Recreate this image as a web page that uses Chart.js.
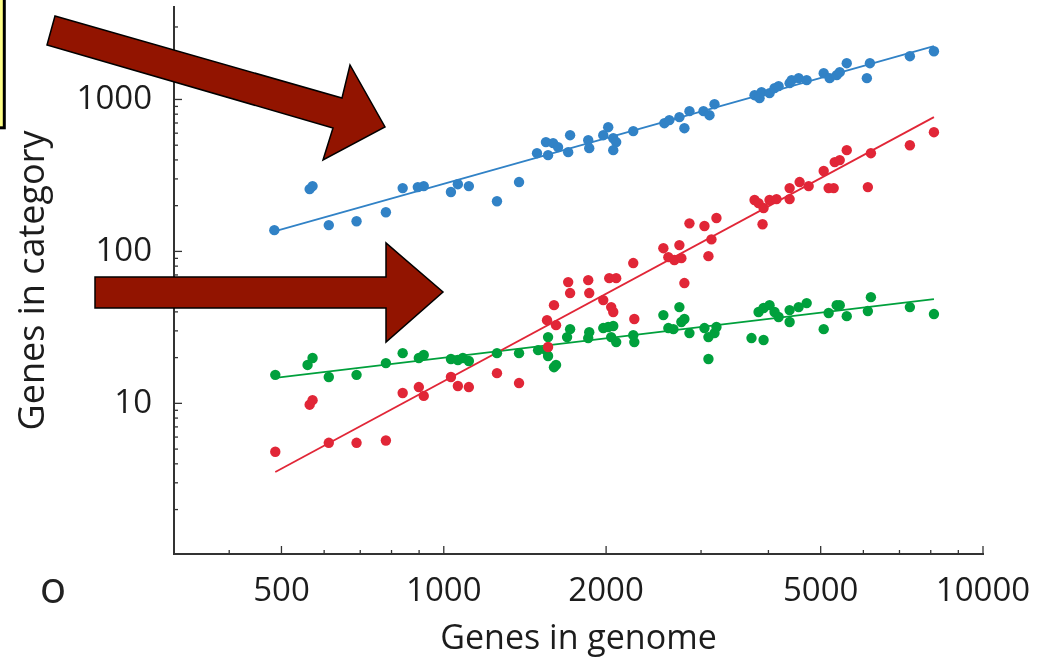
<!DOCTYPE html>
<html>
<head>
<meta charset="utf-8">
<title>Genes in category vs genes in genome</title>
<script src="https://cdn.jsdelivr.net/npm/chart.js@4.4.0/dist/chart.umd.min.js"></script>
<style>
  html, body { margin: 0; padding: 0; background: #fff; }
  #wrap { position: relative; width: 1043px; height: 662px; overflow: hidden; }
  #genesChart, #notes { position: absolute; left: 0; top: 0; }
</style>
</head>
<body>
<div id="wrap">
  <canvas id="genesChart" width="1043" height="662"></canvas>
  <svg id="notes" width="1043" height="662">
    <rect x="-10" y="-10" width="14.3" height="137.8" fill="#ffff88" stroke="#000" stroke-width="3"/>
    <polygon points="55,16 342,98 350,65 385,127 323,160 333,128 47,45" fill="#921400" stroke="#000" stroke-width="1.5"/>
    <polygon points="95,277 386,277 386,243 443,292 386,342 386,308 95,308" fill="#921400" stroke="#000" stroke-width="1.5"/>
    <text x="53" y="603" font-family="Open Sans" font-size="44" text-anchor="middle" fill="#222">o</text>
  </svg>
</div>
<script>
// tick positions
var genomeTicksMajor = [500, 1000, 2000, 5000, 10000];
var genomeTicksMinor = [400, 600, 700, 800, 900, 3000, 4000, 6000, 7000, 8000, 9000];
var categoryTicksMajor = [10, 100, 1000];
var categoryTicksMinor = [2, 3, 4, 5, 6, 7, 8, 9, 20, 30, 40, 50, 60, 70, 80, 90,
  200, 300, 400, 500, 600, 700, 800, 900, 2000, 3000];

// blue series
var blueGenome = [485, 564, 571, 612, 689, 781, 839, 895, 918, 1031, 1062, 1113, 1255, 1379, 1489,
  1547, 1561, 1595, 1629, 1701, 1715, 1853, 1861, 1976, 2018, 2062, 2088, 2062, 2246, 2565,
  2620, 2735, 2794, 2855, 3031, 3110, 3177, 3770, 3851, 3884, 4019, 4106, 4178, 4379, 4417,
  4551, 4710, 5065, 5196, 5354, 5424, 5589, 6090, 6170, 7318, 8110];
var blueCategory = [138, 257, 269, 149, 158, 181, 261, 265, 269, 246, 277, 269, 214, 286, 443,
  524, 430, 516, 486, 450, 582, 540, 478, 582, 657, 556, 524, 464, 619, 698,
  731, 765, 647, 838, 838, 788, 931, 1067, 1020, 1117, 1100, 1187, 1224, 1280, 1340,
  1381, 1340, 1489, 1381, 1445, 1512, 1733, 1381, 1733, 1927, 2078];

// red series
var redGenome = [487, 564, 571, 612, 689, 781, 839, 899, 918, 1031, 1062, 1113, 1255, 1379, 1554,
  1561, 1601, 1615, 1701, 1715, 1853, 1861, 1976, 2027, 2044, 2062, 2088, 2246, 2256, 2554,
  2609, 2677, 2735, 2758, 2794, 2855, 3044, 3096, 3136, 3204, 3770, 3835, 3918, 3901, 4019,
  4141, 4379, 4379, 4570, 4750, 5065, 5173, 5286, 5309, 5424, 5589, 6116, 6196, 7318, 8110];
var redCategory = [4.8, 9.8, 10.5, 5.5, 5.5, 5.7, 11.7, 12.8, 11.2, 14.9, 13.0, 12.8, 15.8, 13.6, 35.3,
  23.5, 44.3, 32.7, 62.8, 53.2, 64.7, 53.2, 47.8, 66.7, 43.0, 39.9, 66.7, 83.8, 35.9, 105,
  91.7, 87.7, 110, 90.3, 61.9, 153, 147, 93.1, 120, 166, 218, 208, 193, 151, 218,
  221, 261, 221, 286, 269, 338, 261, 261, 387, 399, 464, 265, 443, 500, 609];

// green series
var greenGenome = [487, 559, 571, 612, 689, 781, 839, 899, 918, 1031, 1062, 1085, 1113, 1255, 1379,
  1496, 1547, 1561, 1561, 1601, 1615, 1693, 1715, 1853, 1861, 1976, 2018, 2062, 2044, 2088,
  2246, 2256, 2554, 2609, 2666, 2735, 2758, 2794, 2855, 3044, 3096, 3177, 3204, 3096, 3721,
  3918, 3835, 3918, 4019, 4106, 4178, 4379, 4379, 4551, 4710, 5065, 5173, 5354, 5424, 5589,
  6116, 6196, 7318, 8110];
var greenCategory = [15.4, 17.9, 19.9, 14.9, 15.4, 18.4, 21.4, 19.9, 20.8, 19.6, 19.3, 19.9, 19.0, 21.4, 21.4,
  22.4, 22.4, 20.5, 27.3, 17.3, 17.9, 27.3, 30.8, 26.9, 29.4, 31.3, 31.8, 32.3, 27.3, 25.3,
  28.1, 25.3, 38.1, 31.3, 30.8, 43.0, 34.3, 35.9, 29.0, 31.3, 27.3, 29.0, 31.8, 19.6, 26.9,
  26.1, 39.9, 42.4, 44.3, 39.9, 37.0, 41.1, 34.3, 43.0, 45.7, 30.8, 39.3, 44.3, 44.3, 37.5,
  40.5, 50.0, 43.0, 38.7];

// fitted lines (end points)
var fitGenome = [487, 8110];
var blueFit = [136, 2243];
var redFit = [3.53, 765];
var greenFit = [14.7, 48.5];

var BLUE = "#3182c6";
var RED = "#e12637";
var GREEN = "#00a03c";
var INK = "#1c1c1c";

function toPoints(xs, ys) {
  return xs.map(function (x, i) { return { x: x, y: ys[i] }; });
}

function dots(data, color) {
  return {
    data: data,
    showLine: false,
    pointRadius: 5.2,
    pointBorderWidth: 0,
    pointBackgroundColor: color,
    pointHoverRadius: 5.2
  };
}

function fitLine(data, color) {
  return {
    data: data,
    showLine: true,
    borderColor: color,
    borderWidth: 1.8,
    pointRadius: 0,
    pointHoverRadius: 0
  };
}

// tick marks pointing into the plot, long for labelled values
var inwardTicks = {
  id: "inwardTicks",
  afterDatasetsDraw: function (chart) {
    var ctx = chart.ctx;
    var area = chart.chartArea;
    var xs = chart.scales.x;
    var ys = chart.scales.y;
    ctx.save();
    ctx.strokeStyle = "#333";
    ctx.lineWidth = 1.3;
    xs.ticks.forEach(function (t) {
      var px = xs.getPixelForValue(t.value);
      var len = genomeTicksMajor.includes(t.value) ? 8 : 4;
      ctx.beginPath();
      ctx.moveTo(px, area.bottom);
      ctx.lineTo(px, area.bottom - len);
      ctx.stroke();
    });
    ys.ticks.forEach(function (t) {
      var py = ys.getPixelForValue(t.value);
      var len = categoryTicksMajor.includes(t.value) ? 8 : 4;
      ctx.beginPath();
      ctx.moveTo(area.left, py);
      ctx.lineTo(area.left + len, py);
      ctx.stroke();
    });
    ctx.restore();
  }
};

var tickFont = { family: "Open Sans", size: 33 };

new Chart(document.getElementById("genesChart"), {
  type: "scatter",
  data: {
    datasets: [
      dots(toPoints(blueGenome, blueCategory), BLUE),
      dots(toPoints(redGenome, redCategory), RED),
      dots(toPoints(greenGenome, greenCategory), GREEN),
      fitLine(toPoints(fitGenome, blueFit), BLUE),
      fitLine(toPoints(fitGenome, redFit), RED),
      fitLine(toPoints(fitGenome, greenFit), GREEN)
    ]
  },
  options: {
    responsive: false,
    animation: false,
    events: [],
    layout: { padding: { top: 7, right: 60, bottom: 0, left: 0 } },
    plugins: {
      legend: { display: false },
      tooltip: { enabled: false }
    },
    scales: {
      x: {
        type: "logarithmic",
        min: 316,
        max: 10000,
        afterBuildTicks: function (s) {
          s.ticks = genomeTicksMinor.concat(genomeTicksMajor)
            .sort(function (a, b) { return a - b; })
            .map(function (v) { return { value: v }; });
        },
        afterFit: function (s) {
          s.height = 108;
          s.paddingLeft = 0;
          s.paddingRight = 0;
        },
        grid: { display: false },
        border: { display: true, color: "#333", width: 2 },
        ticks: {
          autoSkip: false,
          maxRotation: 0,
          minRotation: 0,
          padding: 10,
          color: INK,
          font: tickFont,
          callback: function (v) { return genomeTicksMajor.includes(v) ? String(v) : ""; }
        },
        title: {
          display: true,
          text: "Genes in genome",
          color: INK,
          font: { family: "Open Sans", size: 34 },
          padding: { top: 0, bottom: 2 }
        }
      },
      y: {
        type: "logarithmic",
        min: 1.02,
        max: 4060,
        afterBuildTicks: function (s) {
          s.ticks = categoryTicksMinor.concat(categoryTicksMajor)
            .sort(function (a, b) { return a - b; })
            .map(function (v) { return { value: v }; });
        },
        afterFit: function (s) {
          s.width = 174;
          s.paddingTop = 0;
          s.paddingBottom = 0;
        },
        grid: { display: false },
        border: { display: true, color: "#333", width: 2 },
        ticks: {
          autoSkip: false,
          padding: 14,
          color: INK,
          font: tickFont,
          callback: function (v) { return categoryTicksMajor.includes(v) ? String(v) : ""; }
        },
        title: {
          display: true,
          text: "Genes in category",
          color: INK,
          font: { family: "Open Sans", size: 36 },
          padding: { top: 12, bottom: 0 }
        }
      }
    }
  },
  plugins: [inwardTicks]
});
</script>
</body>
</html>
